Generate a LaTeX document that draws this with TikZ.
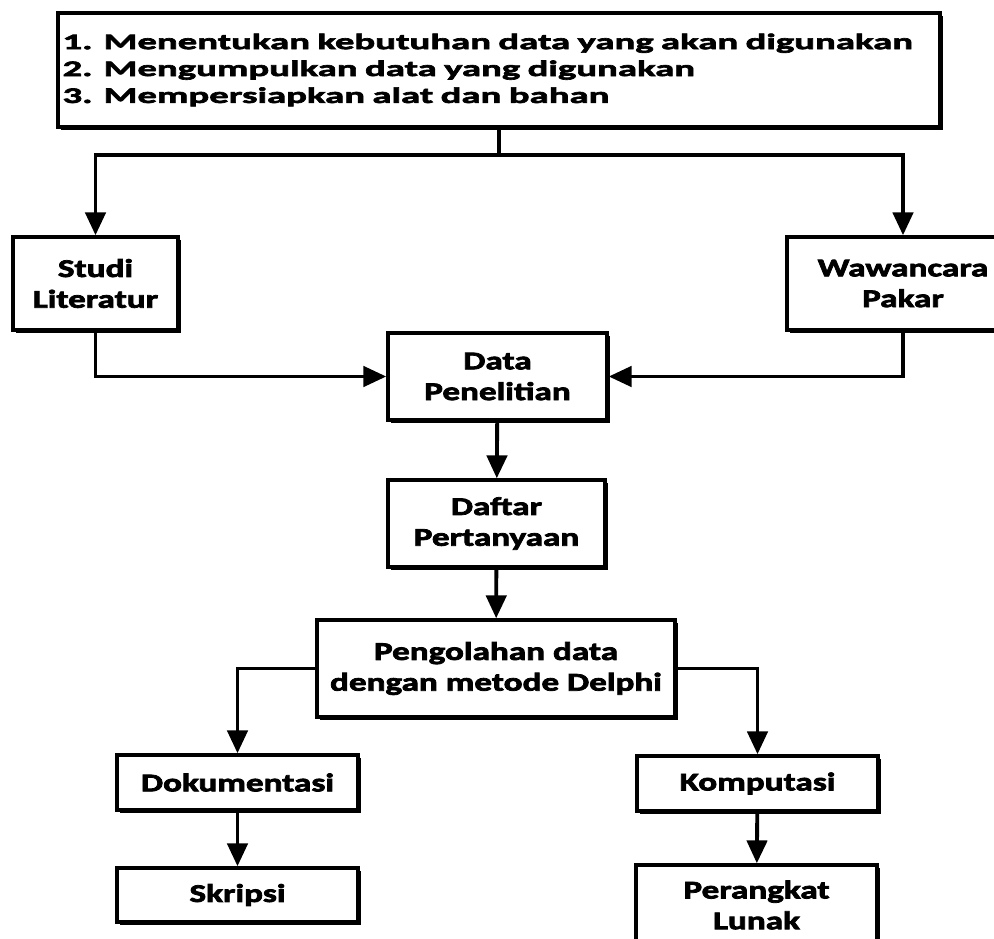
\documentclass[tikz,border=0pt]{standalone}
\usepackage{fontspec}
\setmainfont{Carlito}[FakeStretch=1.38,FakeBold=3]
\newfontfamily\tugasfont{Carlito}[FakeStretch=1.75,FakeBold=3]
\usetikzlibrary{arrows.meta,shadows}
\tikzset{
  box/.style={draw, line width=2pt, fill=white, align=center, inner sep=2pt,
    font=\fontsize{14.5}{17.5}\selectfont\bfseries,
    drop shadow={shadow xshift=1.8pt, shadow yshift=-1.8pt, fill=black, opacity=1}},
  link/.style={line width=2.2pt},
  flow/.style={link, -{Triangle[length=13pt,width=11.5pt]}}
}
\begin{document}
\begin{tikzpicture}[x=0.02cm,y=-0.02cm]
  \useasboundingbox (0,0) rectangle (994,939);
  % tahap persiapan
  \node[box, minimum width=17.64cm, minimum height=2.28cm, text width=17.46cm, align=left,
    font=\tugasfont\fontsize{12.6}{15.3}\selectfont\bfseries] (tugas) at (499,70)
    {1. Menentukan kebutuhan data yang akan digunakan\\
     2. Mengumpulkan data yang digunakan\\
     3. Mempersiapkan alat dan bahan};
  \node[box, minimum width=3.3cm, minimum height=1.86cm] (studi) at (95.5,283.5) {Studi\\Literatur};
  \node[box, minimum width=4.64cm, minimum height=1.86cm] (wawan) at (903,283.5) {Wawancara\\Pakar};
  \node[box, minimum width=4.38cm, minimum height=1.74cm] (data) at (497.5,376.5) {Data\\Penelitian};
  \node[box, minimum width=4.34cm, minimum height=1.74cm] (daftar) at (496.5,523.5) {Daftar\\Pertanyaan};
  \node[box, minimum width=7.16cm, minimum height=1.94cm] (olah) at (496,668.5) {Pengolahan data\\dengan metode Delphi};
  % hasil
  \node[box, minimum width=4.82cm, minimum height=1.1cm] (doku) at (237.5,782.5) {Dokumentasi};
  \node[box, minimum width=4.82cm, minimum height=1.1cm] (komp) at (757.5,783.5) {Komputasi};
  \node[box, minimum width=4.82cm, minimum height=1.08cm] (skripsi) at (237.5,895) {Skripsi};
  \node[box, minimum width=4.82cm, minimum height=1.6cm] (lunak) at (756.5,905) {Perangkat\\Lunak};

  \coordinate (cabang) at (499,155);
  \draw[link] (tugas.south) -- (cabang);
  \draw[flow] (cabang) -| (studi.north);
  \draw[flow] (cabang) -| (wawan.north);
  \draw[flow] (studi.south) |- (data.west);
  \draw[flow] (wawan.south) |- (data.east);
  \draw[flow] (data) -- (daftar);
  \draw[flow] (daftar) -- (olah);
  \draw[flow] (olah.west) -| (doku.north);
  \draw[flow] (olah.east) -| (komp.north);
  \draw[flow] (doku) -- (skripsi);
  \draw[flow] (komp) -- (lunak);
\end{tikzpicture}
\end{document}
